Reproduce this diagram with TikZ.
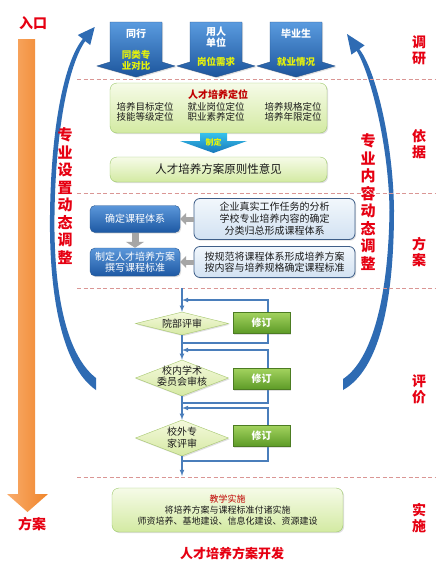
\documentclass[tikz,border=0pt]{standalone}
\usepackage{fontspec}
\setmainfont{Noto Sans CJK SC}
\usetikzlibrary{shapes.geometric,arrows.meta,shadows}

\definecolor{labelred}{HTML}{E60012}
\definecolor{titlered}{HTML}{C00000}
\definecolor{sepred}{HTML}{DA9694}
\definecolor{arcblue}{HTML}{2E6BB3}
\definecolor{calltop}{HTML}{5A9BDF}
\definecolor{callbot}{HTML}{1C559C}
\definecolor{callline}{HTML}{24528C}
\definecolor{callyellow}{HTML}{E6F20A}
\definecolor{greentop}{HTML}{F6FBE8}
\definecolor{greenbot}{HTML}{D3EAA2}
\definecolor{greenline}{HTML}{9CC86A}
\definecolor{bluetop}{HTML}{5B97DA}
\definecolor{bluebot}{HTML}{1D58A3}
\definecolor{blueline}{HTML}{2B5A93}
\definecolor{palebluetop}{HTML}{F2F7FC}
\definecolor{palebluebot}{HTML}{D2E2F2}
\definecolor{palebline}{HTML}{3E5E88}
\definecolor{diamtop}{HTML}{F4F9DC}
\definecolor{diambot}{HTML}{D6E9A4}
\definecolor{diamline}{HTML}{A6C76E}
\definecolor{fixtop}{HTML}{A2D25E}
\definecolor{fixbot}{HTML}{5C9A26}
\definecolor{fixline}{HTML}{4C7C22}
\definecolor{flowblue}{HTML}{4A7EBB}
\definecolor{tealtop}{HTML}{36C2EC}
\definecolor{tealbot}{HTML}{1877BA}
\definecolor{orangeL}{HTML}{F9AC6C}
\definecolor{orangeR}{HTML}{F0852A}
\definecolor{textdark}{HTML}{1A1A1A}

\begin{document}
\begin{tikzpicture}[x=1pt,y=-1pt,
  every node/.style={text=textdark},
  shadowed/.style={drop shadow={opacity=0.25,shadow xshift=1.2pt,shadow yshift=-1.2pt}},
  sidelabel/.style={text=labelred,font=\fontsize{14}{16}\selectfont\bfseries,align=center},
  adjustlabel/.style={text=labelred,font=\fontsize{15}{17.5}\selectfont\bfseries,align=center},
  separator/.style={sepred,dash pattern=on 4pt off 2.5pt,line width=0.8pt},
  callout/.style={draw=callline,top color=calltop,bottom color=callbot,shadowed},
  calltext/.style={text=white,font=\fontsize{10}{11}\selectfont\bfseries,align=center},
  callnote/.style={text=callyellow,font=\fontsize{9.5}{11}\selectfont\bfseries,align=center},
  greenbox/.style={draw=greenline,rounded corners=7pt,top color=greentop,bottom color=greenbot,shadowed},
  bluebox/.style={draw=blueline,rounded corners=5pt,top color=bluetop,bottom color=bluebot,minimum width=90pt,text=white,font=\fontsize{10}{11.5}\selectfont,align=center,shadowed},
  palebox/.style={draw=palebline,line width=0.8pt,rounded corners=6pt,top color=palebluetop,bottom color=palebluebot,minimum width=161pt,font=\fontsize{10}{12}\selectfont,align=center,shadowed},
  review/.style={diamond,draw=diamline,top color=diamtop,bottom color=diambot,minimum width=93pt,inner sep=0pt,shadowed},
  reviewtext/.style={font=\fontsize{10}{11.5}\selectfont,align=center},
  fixbox/.style={draw=fixline,top color=fixtop,bottom color=fixbot,minimum width=57pt,minimum height=21pt,text=white,font=\fontsize{10}{11}\selectfont\bfseries,shadowed},
  flow/.style={flowblue,line width=1.1pt},
  grayarrow/.style={gray!70,line width=5pt,-{Triangle[width=12pt,length=6pt]}}]

  \fill[white] (0,0) rectangle (442,570);
  \useasboundingbox (0,0) rectangle (442,570);

  % entry/exit arrow on the left
  \shade[left color=orangeL,right color=orangeR] (18,39) -- (35,39) -- (35,494) -- (48,494) -- (27.5,512) -- (7,494) -- (18,494) -- cycle;
  \node[sidelabel] (entry) at (33,23) {入口};
  \node[sidelabel] (exit) at (32,524) {方案};

  % dynamic adjustment arcs
  \fill[arcblue] (96,390) .. controls (61,366) and (49,292) .. (50,215) .. controls (51,128) and (64,62) .. (82.8,38.9) -- (77.8,35) -- (94.7,27) -- (90.2,45) -- (85.2,41.1) .. controls (68,66) and (55.5,132) .. (54.5,215) .. controls (53.5,288) and (65,354) .. (96,378) -- cycle;
  \fill[arcblue] (343,390) .. controls (379,370) and (394,303) .. (394,210) .. controls (393,138) and (374.5,68) .. (359.3,49.1) -- (364.6,45.4) -- (347,34) -- (351.4,54.6) -- (356.7,50.9) .. controls (369.5,72) and (388.5,142) .. (389.5,210) .. controls (388.5,297) and (372,360) .. (343,379) -- cycle;
  \node[adjustlabel] (leftadj) at (65,196) {专\\业\\设\\置\\动\\态\\调\\整};
  \node[adjustlabel] (rightadj) at (368,202) {专\\业\\内\\容\\动\\态\\调\\整};

  % stage separators and stage names
  \draw[separator] (77,79) -- (435,79);
  \draw[separator] (77,193) -- (435,193);
  \draw[separator] (77,288) -- (435,288);
  \draw[separator] (77,477) -- (435,477);
  \node[sidelabel] (stage1) at (419,50) {调\\研};
  \node[sidelabel] (stage2) at (419,144) {依\\据};
  \node[sidelabel] (stage3) at (419,252) {方\\案};
  \node[sidelabel] (stage4) at (419,389) {评\\价};
  \node[sidelabel] (stage5) at (419,518) {实\\施};

  % survey callouts
  \path[callout] (110,22) -- (162,22) -- (162,62) -- (175,66) -- (136,77) -- (97,66) -- (110,62) -- cycle;
  \path[callout] (190,22) -- (242,22) -- (242,62) -- (255,66) -- (216,77) -- (177,66) -- (190,62) -- cycle;
  \path[callout] (270,22) -- (322,22) -- (322,62) -- (335,66) -- (296,77) -- (257,66) -- (270,62) -- cycle;
  \node[calltext] (peer) at (136,34) {同行};
  \node[callnote] (peernote) at (136,60) {同类专\\业对比};
  \node[calltext] (employer) at (216,37) {用人\\单位};
  \node[callnote] (employernote) at (216,62) {岗位需求};
  \node[calltext] (graduate) at (296,34) {毕业生};
  \node[callnote] (graduatenote) at (296,62) {就业情况};

  % positioning of talent training
  \node[greenbox,minimum width=217pt,minimum height=50pt] (position) at (218.5,108) {};
  \node[text=titlered,font=\fontsize{10}{11}\selectfont\bfseries] (postitle) at (218,95) {人才培养定位};
  \node[font=\fontsize{9.5}{10.5}\selectfont,align=center] (posa) at (145,112) {培养目标定位\\技能等级定位};
  \node[font=\fontsize{9.5}{10.5}\selectfont,align=center] (posb) at (216,112) {就业岗位定位\\职业素养定位};
  \node[font=\fontsize{9.5}{10.5}\selectfont,align=center] (posc) at (293,112) {培养规格定位\\培养年限定位};

  % formulate arrow
  \shade[top color=tealtop,bottom color=tealbot] (200,133) -- (227,133) -- (227,141) -- (247,141) -- (213.5,153) -- (180,141) -- (200,141) -- cycle;
  \node[text=callyellow,font=\fontsize{8}{9}\selectfont\bfseries] (formulate) at (213.5,142) {制定};

  \node[greenbox,minimum width=217pt,minimum height=25pt,font=\fontsize{11.5}{12}\selectfont] (principle) at (218.5,169.5) {人才培养方案原则性意见};

  % curriculum design
  \node[bluebox,minimum height=27pt] (course) at (135,219) {确定课程体系};
  \node[bluebox,minimum height=28pt] (plan) at (135,262) {制定人才培养方案\\撰写课程标准};
  \node[palebox,minimum height=41pt] (task) at (274.5,219) {企业真实工作任务的分析\\学校专业培养内容的确定\\分类归总形成课程体系};
  \node[palebox,minimum height=31pt,font=\fontsize{10}{11}\selectfont] (standard) at (274.5,262) {按规范将课程体系形成培养方案\\按内容与培养规格确定课程标准};
  \draw[grayarrow] (task.west) -- (course.east);
  \draw[grayarrow] (standard.west) -- (plan.east);
  \draw[grayarrow,line width=7pt,-{Triangle[width=18pt,length=6pt]}] (course.south) -- (plan.north);

  % review flow
  \coordinate (flowin) at (182,288);
  \coordinate (flowout) at (182,476);
  \node[review,minimum height=23pt] (rev1) at (182,323.5) {};
  \node[reviewtext] (rev1t) at (rev1) {院部评审};
  \node[review,minimum height=36pt] (rev2) at (182,378) {};
  \node[reviewtext] (rev2t) at (182,376) {校内学术\\委员会审核};
  \node[review,minimum height=36pt] (rev3) at (182,438) {};
  \node[reviewtext] (rev3t) at (182,437.5) {校外专\\家评审};
  \draw[flow,-latex] (flowin) -- (rev1.north);
  \draw[flow,-latex] (rev1.south) -- (rev2.north);
  \draw[flow,-latex] (rev2.south) -- (rev3.north);
  \draw[flow,-latex] (rev3.south) -- (flowout);

  % revision loops
  \coordinate (loop1s) at (182,343);
  \coordinate (loop1e) at (182,300);
  \coordinate (loop2s) at (182,403);
  \coordinate (loop2e) at (182,350);
  \coordinate (loop3s) at (182,461);
  \coordinate (loop3e) at (182,408);
  \draw[flow,-latex] (loop1s) -- ++(86,0) |- (loop1e);
  \draw[flow,-latex] (loop2s) -- ++(86,0) |- (loop2e);
  \draw[flow,-latex] (loop3s) -- ++(86,0) |- (loop3e);
  \node[fixbox] (fix1) at (261.5,323) {修订};
  \node[fixbox] (fix2) at (261.5,379) {修订};
  \node[fixbox] (fix3) at (261.5,436) {修订};

  % teaching implementation
  \node[greenbox,minimum width=231pt,minimum height=44pt,align=center,font=\fontsize{9}{11}\selectfont] (teach) at (227.5,510) {\textcolor{titlered}{教学实施}\\将培养方案与课程标准付诸实施\\师资培养、基地建设、信息化建设、资源建设};

  \node[text=labelred,font=\fontsize{13}{13}\selectfont\bfseries] (title) at (232,553) {人才培养方案开发};

\end{tikzpicture}
\end{document}
